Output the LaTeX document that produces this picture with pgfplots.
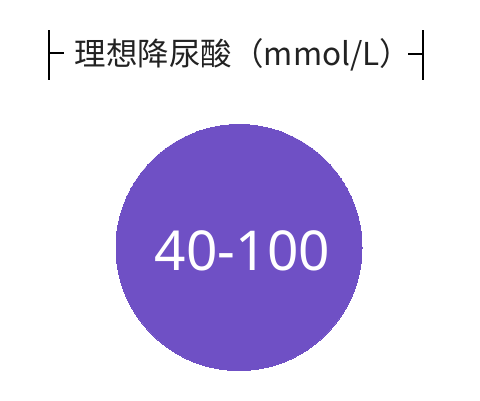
\documentclass[border=0pt]{standalone}
\usepackage{pgfplots}
\pgfplotsset{compat=1.18}
\usepackage{fontspec}
\setmainfont{Noto Sans}
\newfontfamily\cjk{Noto Sans CJK SC}
\newfontfamily\numfont{Noto Sans}
\definecolor{circ}{HTML}{6F50C5}
\definecolor{titlec}{HTML}{222222}
\begin{document}
\begin{tikzpicture}
\begin{axis}[
  scale only axis, width=480bp, height=400bp,
  xmin=0, xmax=480, ymin=0, ymax=400, y dir=reverse,
  axis lines=none, clip=false,
]
% circle
\addplot[only marks, mark=*, mark size=123bp, mark options={fill=circ, draw=circ, line width=0pt}] coordinates {(239,247.5)};
\coordinate (val) at (axis cs:242.5,251);
% bracket lines
\addplot[black, line width=1.8bp] coordinates {(49,30) (49,80)};
\addplot[black, line width=1.8bp] coordinates {(49,53) (64,53)};
\addplot[black, line width=1.8bp] coordinates {(408,54) (423,54)};
\addplot[black, line width=1.8bp] coordinates {(423,30) (423,80)};
% title
\node[text=titlec, font=\cjk\fontsize{31.5bp}{36bp}\selectfont, anchor=base] at (axis cs:243,65) {理想降尿酸（mmol/L）};
\end{axis}
\useasboundingbox (current axis.south west) rectangle (current axis.north east);
\node[text=white, font=\numfont\fontsize{55bp}{60bp}\selectfont, anchor=center] at (val) {40-100};
\end{tikzpicture}
\end{document}
